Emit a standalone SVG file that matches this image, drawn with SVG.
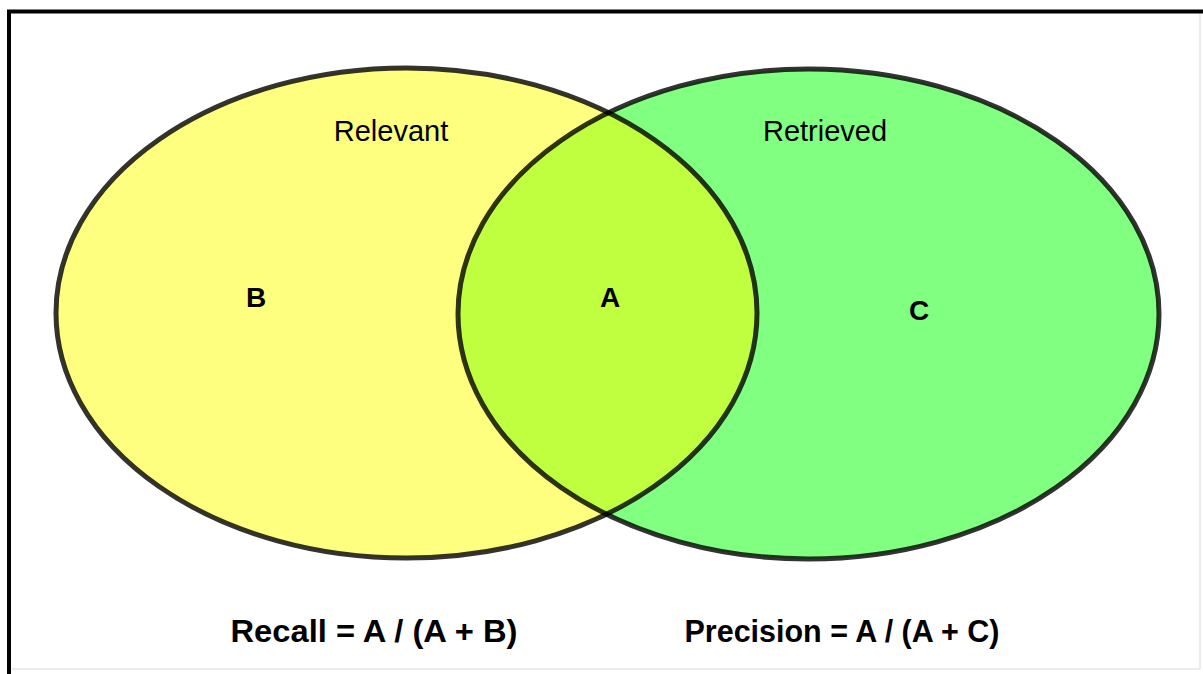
<svg xmlns="http://www.w3.org/2000/svg" width="1203" height="674" viewBox="0 0 1203 674">
<style>
.lbl{font-family:"Liberation Sans",Arial,sans-serif;fill:#000;text-anchor:middle}
.set{font-size:29px}
.reg{font-size:28px;font-weight:bold}
.eq{font-size:32px;font-weight:bold}
.edge{fill:none;stroke:#000;stroke-opacity:0.8;stroke-width:5}
</style>
<rect width="1203" height="674" fill="#fff"/>
<g id="frame">
<path d="M9 674 V11.5 H1203" fill="none" stroke="#000" stroke-width="4"/>
<path d="M1200 14 V669 H12" fill="none" stroke="#e6e6e6" stroke-width="1.5"/>
</g>
<g id="retrieved">
<ellipse cx="808.5" cy="314" rx="350.5" ry="245" fill="#80ff80"/>
</g>
<g id="relevant">
<ellipse cx="406.5" cy="313" rx="350.5" ry="245" fill="#ffff00" fill-opacity="0.5"/>
</g>
<g id="outlines">
<ellipse class="edge" cx="808.5" cy="314" rx="350.5" ry="245"/>
<ellipse class="edge" cx="406.5" cy="313" rx="350.5" ry="245"/>
</g>
<g id="labels">
<text class="lbl set" x="391" y="141">Relevant</text>
<text class="lbl set" x="825" y="141">Retrieved</text>
<text class="lbl reg" x="256" y="307">B</text>
<text class="lbl reg" x="610" y="307">A</text>
<text class="lbl reg" x="919" y="320">C</text>
<text class="lbl eq" x="374" y="642" textLength="287" lengthAdjust="spacingAndGlyphs">Recall = A / (A + B)</text>
<text class="lbl eq" x="842" y="642" textLength="315" lengthAdjust="spacingAndGlyphs">Precision = A / (A + C)</text>
</g>
</svg>
